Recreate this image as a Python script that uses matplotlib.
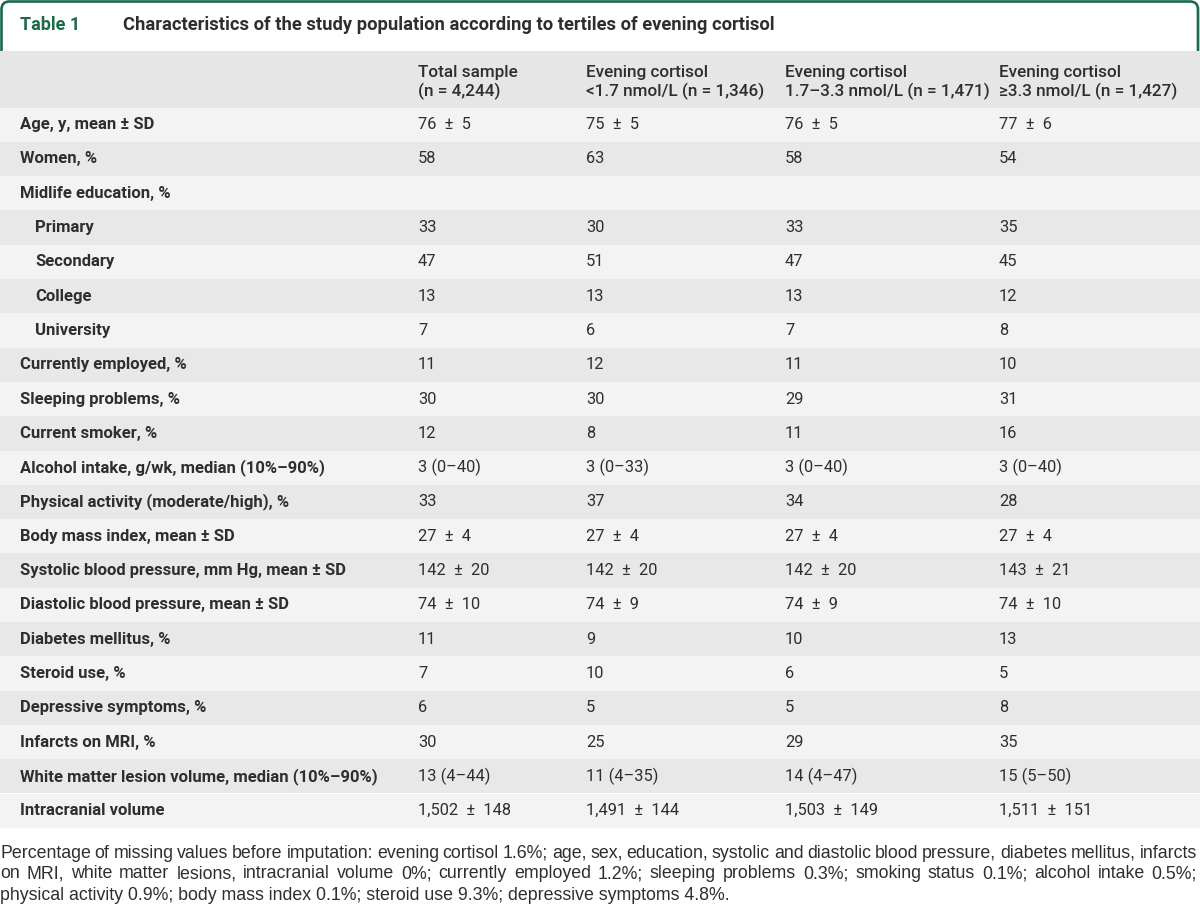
import matplotlib
matplotlib.use("Agg")
import matplotlib.pyplot as plt
from matplotlib.patches import Rectangle, FancyBboxPatch

# ---------------- data ----------------
title_num = "Table 1"
title_text = "Characteristics of the study population according to tertiles of evening cortisol"

col_head_1 = ["Total sample", "Evening cortisol", "Evening cortisol", "Evening cortisol"]
col_head_2 = ["(n = 4,244)", "<1.7 nmol/L (n = 1,346)", "1.7–3.3 nmol/L (n = 1,471)", "≥3.3 nmol/L (n = 1,427)"]

row_labels = [
    "Age, y, mean ± SD", "Women, %", "Midlife education, %", "Primary", "Secondary",
    "College", "University", "Currently employed, %", "Sleeping problems, %",
    "Current smoker, %", "Alcohol intake, g/wk, median (10%–90%)",
    "Physical activity (moderate/high), %", "Body mass index, mean ± SD",
    "Systolic blood pressure, mm Hg, mean ± SD", "Diastolic blood pressure, mean ± SD",
    "Diabetes mellitus, %", "Steroid use, %", "Depressive symptoms, %",
    "Infarcts on MRI, %", "White matter lesion volume, median (10%–90%)",
    "Intracranial volume",
]
row_indent = [0, 0, 0, 1, 1, 1, 1, 0, 0, 0, 0, 0, 0, 0, 0, 0, 0, 0, 0, 0, 0]

total_sample = ["76 ± 5", "58", "", "33", "47", "13", "7", "11", "30", "12", "3 (0–40)", "33",
                "27 ± 4", "142 ± 20", "74 ± 10", "11", "7", "6", "30", "13 (4–44)", "1,502 ± 148"]
cortisol_low = ["75 ± 5", "63", "", "30", "51", "13", "6", "12", "30", "8", "3 (0–33)", "37",
                "27 ± 4", "142 ± 20", "74 ± 9", "9", "10", "5", "25", "11 (4–35)", "1,491 ± 144"]
cortisol_mid = ["76 ± 5", "58", "", "33", "47", "13", "7", "11", "29", "11", "3 (0–40)", "34",
                "27 ± 4", "142 ± 20", "74 ± 9", "10", "6", "5", "29", "14 (4–47)", "1,503 ± 149"]
cortisol_high = ["77 ± 6", "54", "", "35", "45", "12", "8", "10", "31", "16", "3 (0–40)", "28",
                 "27 ± 4", "143 ± 21", "74 ± 10", "13", "5", "8", "35", "15 (5–50)", "1,511 ± 151"]

footnote_lines = [
    "Percentage of missing values before imputation: evening cortisol 1.6%; age, sex, education, systolic and diastolic blood pressure, diabetes mellitus, infarcts",
    "on MRI, white matter lesions, intracranial volume 0%; currently employed 1.2%; sleeping problems 0.3%; smoking status 0.1%; alcohol intake 0.5%;",
    "physical activity 0.9%; body mass index 0.1%; steroid use 9.3%; depressive symptoms 4.8%.",
]

# ---------------- layout / style ----------------
W, H = 1200, 909
GREEN = "#1b6b4b"
DARK = "#2e2e2e"
HEAD_BG = "#e6e6e6"
ROW_LIGHT = "#f3f3f3"
ROW_DARK = "#e8e8e8"
FONT = "Roboto"
FOOT_FONT = "Liberation Sans"

fig = plt.figure(figsize=(W / 100, H / 100), dpi=100)
ax = fig.add_axes([0, 0, 1, 1])
ax.set_xlim(0, W)
ax.set_ylim(H, 0)
ax.axis("off")

# title box border
border = FancyBboxPatch((1.5, 1.5), W - 3.5, 120, boxstyle="round,pad=0,rounding_size=8",
                        fill=False, edgecolor=GREEN, linewidth=1.9, zorder=1)
ax.add_patch(border)
ax.add_patch(Rectangle((0, 51), W, 300, facecolor="white", edgecolor="none", zorder=1.5))

ax.text(20, 25, title_num, color=GREEN, fontsize=13, fontweight="bold", family=FONT,
        va="center", ha="left", zorder=5)
ax.text(123, 25, title_text, color=DARK, fontsize=13.2, fontweight="bold", family=FONT,
        va="center", ha="left", zorder=5)

# header
head_top, head_bot = 51, 107.5
ax.add_patch(Rectangle((0, head_top), W, head_bot - head_top, facecolor=HEAD_BG,
                       edgecolor="none", zorder=2))
col_x = [418, 586, 785, 999]
for x, h1, h2 in zip(col_x, col_head_1, col_head_2):
    ax.text(x, 72, h1, color=DARK, fontsize=12.3, fontweight="medium", family=FONT,
            va="center", ha="left", zorder=5)
    ax.text(x, 91, h2, color=DARK, fontsize=12.3, fontweight="medium", family=FONT,
            va="center", ha="left", zorder=5)

# body rows
row_h = 34.3
columns = [total_sample, cortisol_low, cortisol_mid, cortisol_high]
for i, lab in enumerate(row_labels):
    top = head_bot + i * row_h
    ax.add_patch(Rectangle((0, top), W, row_h, facecolor=ROW_LIGHT if i % 2 == 0 else ROW_DARK,
                           edgecolor="none", zorder=2))
    yc = top + row_h / 2
    ax.text(20 + 15 * row_indent[i], yc, lab, color=DARK, fontsize=12, fontweight="bold",
            family=FONT, va="center", ha="left", zorder=5)
    for x, col in zip(col_x, columns):
        ax.text(x, yc, col[i].replace(" ± ", "  ±  "), color=DARK, fontsize=11.8, family=FONT,
                va="center", ha="left", zorder=5)

# footnote (justified)
fig.canvas.draw()
renderer = fig.canvas.get_renderer()
foot_size = 12.8
foot_y = [853, 874, 895]


def width_px(s):
    t = ax.text(0, 0, s, fontsize=foot_size, family=FOOT_FONT)
    bb = t.get_window_extent(renderer=renderer)
    t.remove()
    return bb.width


for li, (line, y) in enumerate(zip(footnote_lines, foot_y)):
    if li < len(footnote_lines) - 1:
        words = line.split(" ")
        widths = [width_px(w) for w in words]
        gap = (W - 3 - sum(widths)) / (len(words) - 1)
        x = 0
        for w, wd in zip(words, widths):
            ax.text(x, y, w, fontsize=foot_size, family=FOOT_FONT, color=DARK,
                    va="center", ha="left", zorder=5)
            x += wd + gap
    else:
        ax.text(0, y, line, fontsize=foot_size, family=FOOT_FONT, color=DARK,
                va="center", ha="left", zorder=5)

fig.savefig("out.png", dpi=100, facecolor="white")
